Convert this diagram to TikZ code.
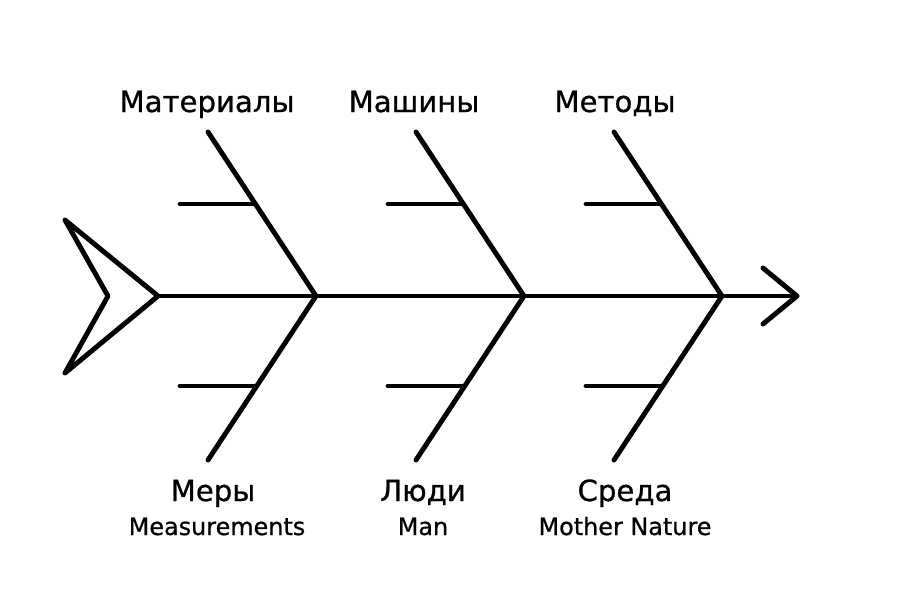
\documentclass[tikz,border=0pt]{standalone}
\usepackage{fontspec}
\setmainfont{DejaVu Sans}
\newfontfamily\medfont{DejaVu Sans}[FakeBold=0.8]

\begin{document}
\begin{tikzpicture}[x=0.02cm,y=-0.02cm,
  bone/.style={line width=2.8pt,line cap=round,line join=round},
  cat/.style={anchor=base,font=\medfont\fontsize{16.6}{20}\selectfont},
  eng/.style={anchor=base,font=\medfont\fontsize{13.6}{16}\selectfont}]
\useasboundingbox(0,0)rectangle(900,600);
\coordinate(tail)at(158,296);
\coordinate(head)at(797,296);
% tail, spine, head
\draw[bone](65,220)--(tail)--(65,373)--(108,296)--cycle;
\draw[bone](tail)--(head);
\draw[bone](763,268)--(head)--(763,324);
% bones
\foreach \n/\x in {a/316,b/524,c/722}{
  \coordinate(j\n)at(\x,296);
  \coordinate(t\n)at(\x-108,132);
  \coordinate(b\n)at(\x-108,460);
  \draw[bone](t\n)--(j\n)--(b\n);
  \draw[bone](\x-136,204)--(\x-61,204);
  \draw[bone](\x-136,386)--(\x-61,386);
}
% labels
\node[cat](ma)at(207,112){Материалы};
\node[cat](mb)at(414,112){Машины};
\node[cat](mc)at(615,112){Методы};
\node[cat](la)at(213,501){Меры};
\node[cat](lb)at(423,501){Люди};
\node[cat](lc)at(625,501){Среда};
\node[eng](ea)at(217,535){Measurements};
\node[eng](eb)at(423,535){Man};
\node[eng](ec)at(625,535){Mother Nature};
\end{tikzpicture}
\end{document}
